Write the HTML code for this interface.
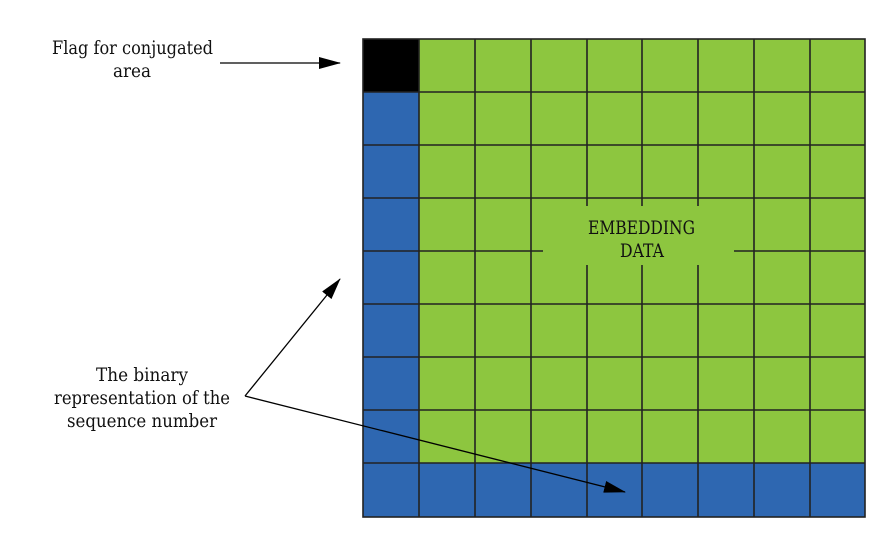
<!DOCTYPE html>
<html><head><meta charset="utf-8"><style>
html,body{margin:0;padding:0;background:#fff;}
svg{display:block}
text{font-family:"DejaVu Serif","Liberation Serif",serif;font-size:19px;fill:#111;}
</style></head><body>
<svg width="887" height="534" viewBox="0 0 887 534" xmlns="http://www.w3.org/2000/svg">
<defs>
<marker id="ah2" markerWidth="22" markerHeight="14" refX="21" refY="7" orient="auto" markerUnits="userSpaceOnUse" viewBox="0 0 22 14">
<path d="M0,1 L22,7 L0,13 z" fill="#000"/></marker>
</defs>
<rect x="363" y="39" width="502" height="478" fill="#8dc63f"/>
<rect x="363" y="92" width="56" height="425" fill="#2e67b1"/>
<rect x="363" y="463" width="502" height="54" fill="#2e67b1"/>
<rect x="363" y="39" width="56" height="53" fill="#000"/>
<g stroke="#222" stroke-width="1.6">
<line x1="419" y1="39" x2="419" y2="517"/>
<line x1="475" y1="39" x2="475" y2="517"/>
<line x1="531" y1="39" x2="531" y2="517"/>
<line x1="587" y1="39" x2="587" y2="517"/>
<line x1="642" y1="39" x2="642" y2="517"/>
<line x1="698" y1="39" x2="698" y2="517"/>
<line x1="754" y1="39" x2="754" y2="517"/>
<line x1="810" y1="39" x2="810" y2="517"/>
<line x1="363" y1="92" x2="865" y2="92"/>
<line x1="363" y1="145" x2="865" y2="145"/>
<line x1="363" y1="198" x2="865" y2="198"/>
<line x1="363" y1="251" x2="865" y2="251"/>
<line x1="363" y1="304" x2="865" y2="304"/>
<line x1="363" y1="357" x2="865" y2="357"/>
<line x1="363" y1="410" x2="865" y2="410"/>
<line x1="363" y1="463" x2="865" y2="463"/>
</g>
<rect x="543" y="206" width="191" height="59" fill="#8dc63f"/>
<rect x="363" y="39" width="502" height="478" fill="none" stroke="#222" stroke-width="1.6"/>
<text x="588" y="234" textLength="107" lengthAdjust="spacingAndGlyphs">EMBEDDING</text>
<text x="620" y="257" textLength="44" lengthAdjust="spacingAndGlyphs">DATA</text>
<text x="52" y="54" textLength="161" lengthAdjust="spacingAndGlyphs">Flag for conjugated</text>
<text x="113" y="77" textLength="38" lengthAdjust="spacingAndGlyphs">area</text>
<text x="96" y="381" textLength="92" lengthAdjust="spacingAndGlyphs">The binary</text>
<text x="54" y="404" textLength="176" lengthAdjust="spacingAndGlyphs">representation of the</text>
<text x="67" y="427" textLength="150" lengthAdjust="spacingAndGlyphs">sequence number</text>
<line x1="220" y1="63" x2="340" y2="63" stroke="#000" stroke-width="1.3" marker-end="url(#ah2)"/>
<line x1="245" y1="396" x2="340" y2="279" stroke="#000" stroke-width="1.3" marker-end="url(#ah2)"/>
<line x1="245" y1="396" x2="625" y2="492" stroke="#000" stroke-width="1.3" marker-end="url(#ah2)"/>
</svg>
</body></html>
